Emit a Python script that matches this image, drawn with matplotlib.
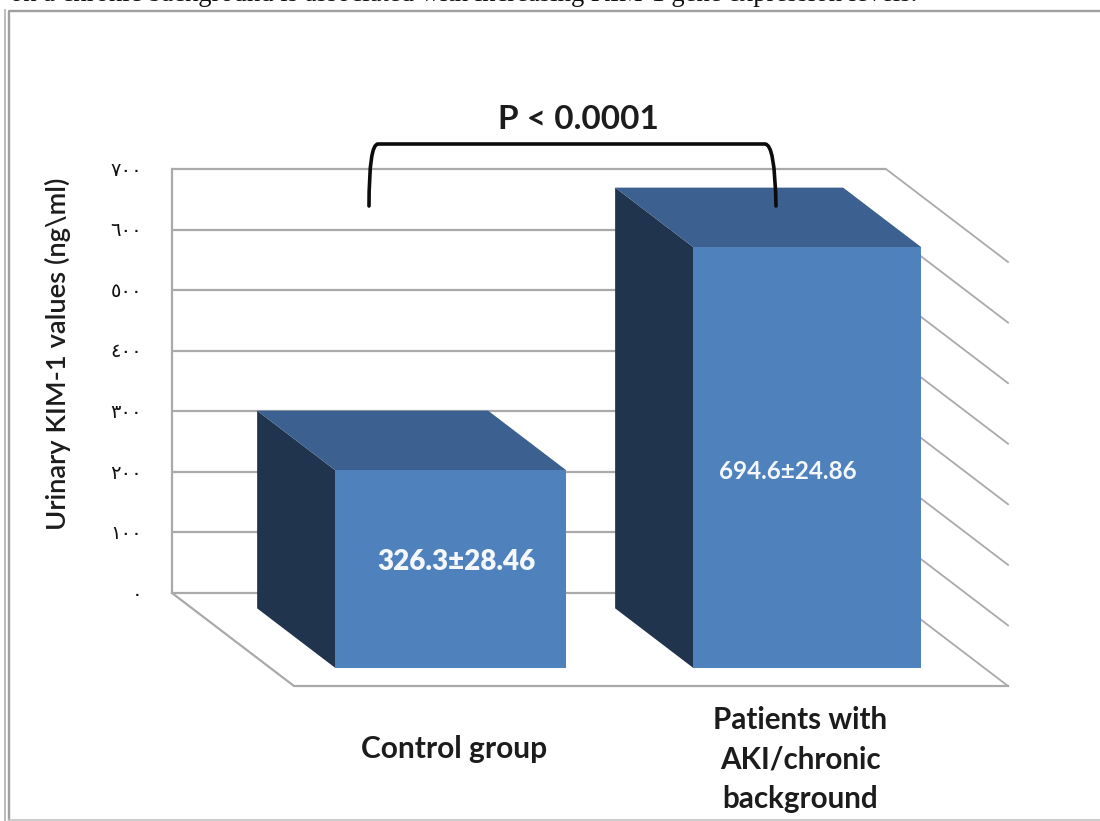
import matplotlib
matplotlib.use("Agg")
import matplotlib.pyplot as plt
from matplotlib.patches import Polygon, PathPatch
from matplotlib.path import Path

categories = ["Control group", "Patients with\nAKI/chronic\nbackground"]
means = [326.3, 694.6]
sems = [28.46, 24.86]
ticks = [0, 100, 200, 300, 400, 500, 600, 700]
tick_labels = ["٠", "١٠٠", "٢٠٠", "٣٠٠", "٤٠٠", "٥٠٠", "٦٠٠", "٧٠٠"]
bar_left = [237, 595]
bar_width = [231, 228]

W, H = 1100, 821
Y0, SCALE = 593, 0.6057   # wall baseline pixel row, pixels per ng/ml
DX, DY = 122, 93          # oblique offset of the floor depth
D_BACK, D_FRONT = 0.165, 0.806

fig = plt.figure(figsize=(W / 100, H / 100), dpi=100, facecolor="white")
ax = fig.add_axes([0, 0, 1, 1])
ax.set_xlim(0, W)
ax.set_ylim((Y0 - H) / SCALE, Y0 / SCALE)
ax.axis("off")

def pv(px_y):
    """Convert a pixel row into the value scale of the axes."""
    return (Y0 - px_y) / SCALE

def proj(x, v, d):
    """Oblique projection: wall position x, value v, depth d (0 wall, 1 front)."""
    return x + DX * d, v - DY * d / SCALE

GRID = "#aaaaaa"
WALL_L, WALL_R = 172, 886

# wall, floor and side gridlines
for t in ticks:
    ax.plot([WALL_L, WALL_R], [t, t], color=GRID, lw=1.6, zorder=1, solid_capstyle="butt")
    a, b = proj(WALL_R, t, 0), proj(WALL_R, t, 1)
    ax.plot([a[0], b[0]], [a[1], b[1]], color=GRID, lw=1.3, zorder=1)
ax.plot([WALL_L, WALL_L], [0, 700], color=GRID, lw=1.6, zorder=1)
p = [proj(WALL_L, 0, 0), proj(WALL_L, 0, 1), proj(WALL_R, 0, 1)]
ax.plot([q[0] for q in p], [q[1] for q in p], color=GRID, lw=1.6, zorder=1)

# oblique bars
for left, width, m in zip(bar_left, bar_width, means):
    right = left + width
    ax.add_patch(Polygon([proj(left, 0, D_BACK), proj(left, m, D_BACK),
                          proj(left, m, D_FRONT), proj(left, 0, D_FRONT)],
                         fc="#21344d", ec="none", zorder=3))
    ax.add_patch(Polygon([proj(left, m, D_BACK), proj(right, m, D_BACK),
                          proj(right, m, D_FRONT), proj(left, m, D_FRONT)],
                         fc="#3c608f", ec="none", zorder=3))
    ax.add_patch(Polygon([proj(left, 0, D_FRONT), proj(right, 0, D_FRONT),
                          proj(right, m, D_FRONT), proj(left, m, D_FRONT)],
                         fc="#4f81bd", ec="none", zorder=4))

# value labels on the front faces
label_pos = [(456, 562), (788, 471)]
label_sizes = [20, 17.5]
label_weights = ["heavy", "bold"]
for (x, y), m, s, fs, fw in zip(label_pos, means, sems, label_sizes, label_weights):
    ax.text(x, pv(y), f"{m}±{s}", color="#f4f7fb", fontsize=fs, fontweight=fw,
            family="Lato", ha="center", va="center", zorder=5)

# value axis labels
for t, lab in zip(ticks, tick_labels):
    ax.text(142, t - 2, lab, fontsize=14, family="DejaVu Sans", color="#111111",
            ha="right", va="center")

ax.text(58, pv(354), "Urinary KIM-1 values (ng\\ml)", rotation=90, fontsize=19.7,
        family="Lato", fontweight="semibold", color="#1c1c1c", ha="center", va="center")

# category labels
ax.text(454, pv(749), categories[0], fontsize=21.5, family="Lato", fontweight="bold",
        color="#1c1c1c", ha="center", va="center")
ax.text(800, pv(759), categories[1], fontsize=21.3, family="Lato", fontweight="bold",
        color="#1c1c1c", ha="center", va="center", linespacing=1.5)

# significance bracket
verts = [(369, 206), (369, 144), (378, 144), (765, 144), (775, 144), (776, 206)]
codes = [Path.MOVETO, Path.CURVE3, Path.CURVE3, Path.LINETO, Path.CURVE3, Path.CURVE3]
bracket = Path([(x, pv(y)) for x, y in verts], codes)
ax.add_patch(PathPatch(bracket, fc="none", ec="#0c0c0c", lw=2.6, capstyle="round", zorder=6))
ax.text(578, pv(119), "P < 0.0001", fontsize=24, family="Lato", fontweight="bold",
        color="#1c1c1c", ha="center", va="center")

# picture frame and the caption clipped by the top edge
ax.plot([5, 5], [pv(H), pv(10)], color="#b5b5b5", lw=1.3)
ax.plot([9, 9, 1100], [pv(H), pv(11), pv(11)], color="#a0a0a0", lw=1.7)
ax.plot([9, 1100], [pv(820), pv(820)], color="#c4c4c4", lw=1.2)
ax.text(10, pv(1), "on a chronic background is associated with increasing KIM-1 gene expression levels.",
        fontsize=19.2, family="Liberation Serif", color="#111111", ha="left", va="baseline", clip_on=True)

fig.savefig("out.png", dpi=100, facecolor="white")
